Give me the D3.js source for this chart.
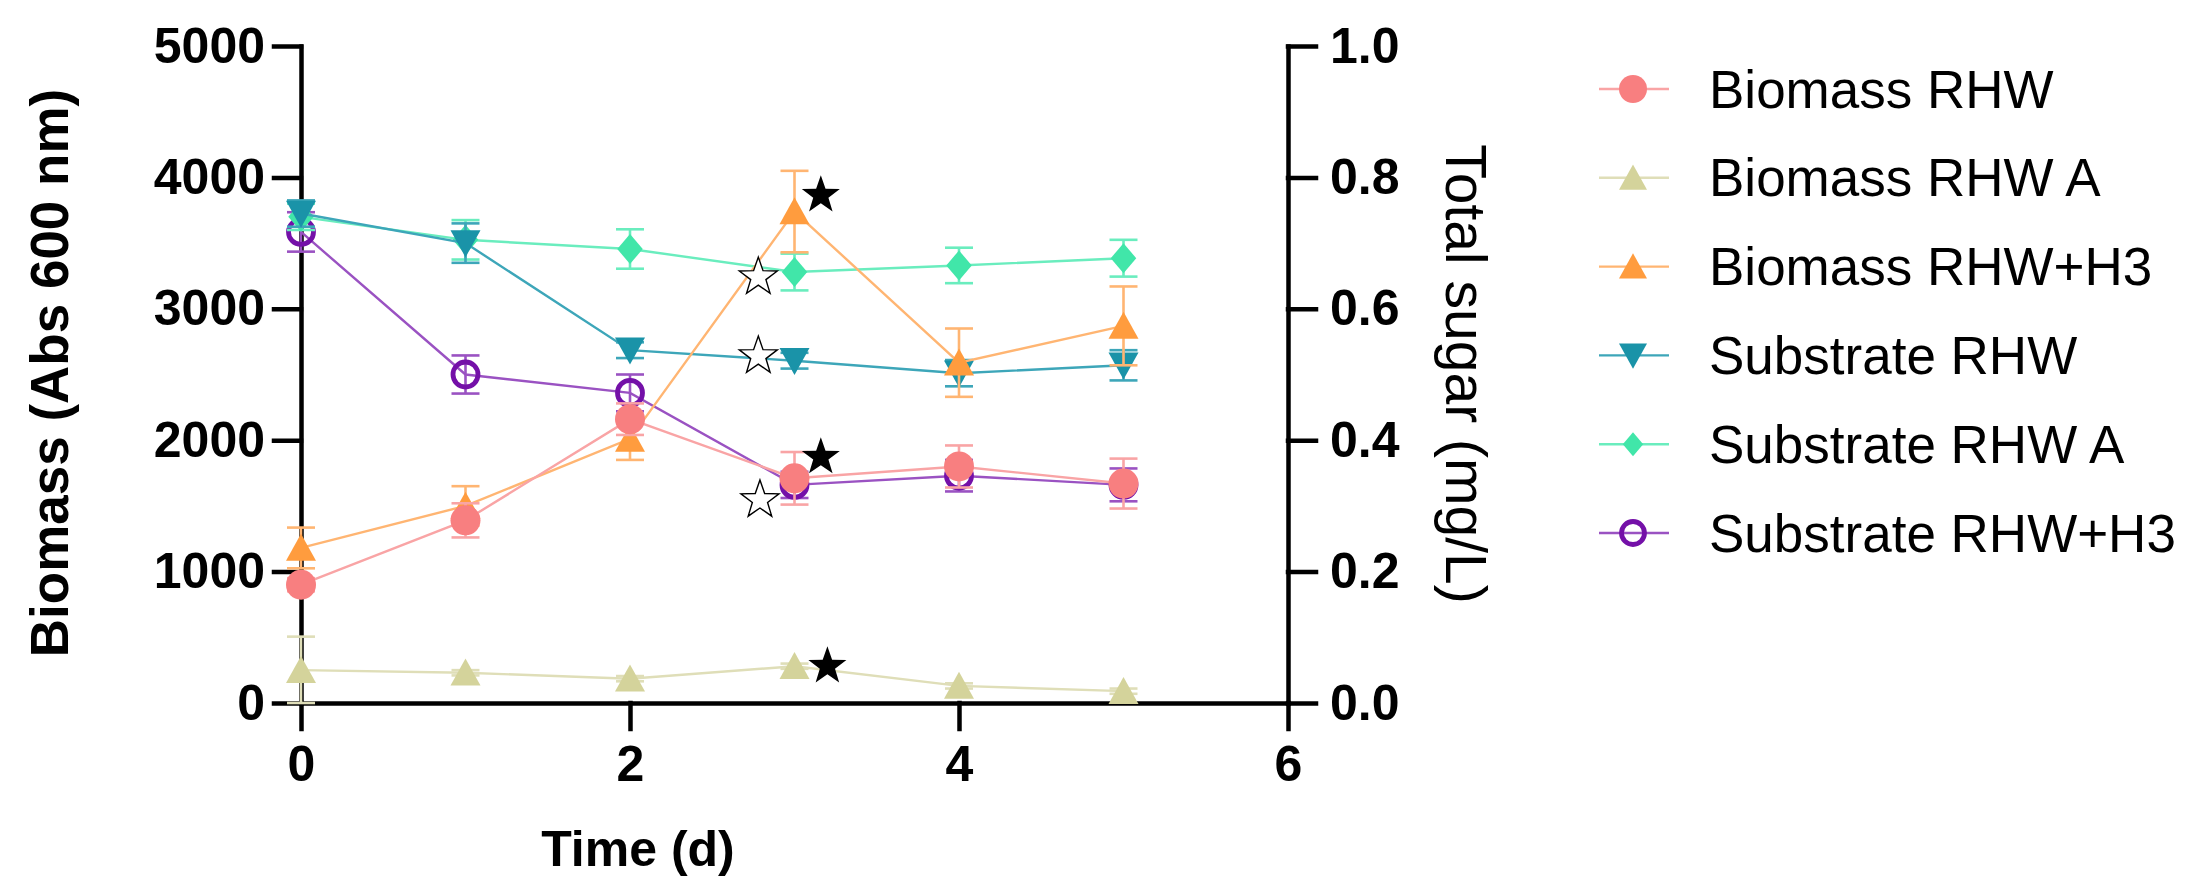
<!DOCTYPE html>
<html lang="en">
<head>
<meta charset="UTF-8">
<title>Biomass and total sugar</title>
<script src="https://cdn.jsdelivr.net/npm/d3@7"></script>
<style>
    body { margin: 0; background: #fff; }
    svg { display: block; font-family: "Liberation Sans", Arial, sans-serif; }
</style>
</head>
<body>
<svg id="chart" width="2199" height="895"></svg>
<script>
    // time points (d)
    const days = [0, 1, 2, 3, 4, 5];

    // biomass, left axis (Abs 600 nm)
    const biomassRHW = [900, 1390, 2160, 1710, 1800, 1670];
    const biomassRHWErr = [50, 130, 120, 200, 160, 190];
    const biomassRHWA = [250, 230, 185, 280, 130, 90];
    const biomassRHWAErr = [255, 20, 20, 20, 20, 20];
    const biomassRHWH3 = [1180, 1500, 2010, 3740, 2590, 2870];
    const biomassRHWH3Err = [155, 150, 160, 310, 260, 300];

    // total sugar, right axis (mg/L)
    const substrateRHW = [0.745, 0.70, 0.537, 0.521, 0.502, 0.514];
    const substrateRHWErr = [0.02, 0.03, 0.012, 0.012, 0.02, 0.023];
    const substrateRHWA = [0.74, 0.705, 0.691, 0.656, 0.666, 0.677];
    const substrateRHWAErr = [0.02, 0.03, 0.03, 0.028, 0.027, 0.028];
    const substrateRHWH3 = [0.717, 0.50, 0.472, 0.332, 0.346, 0.332];
    const substrateRHWH3Err = [0.03, 0.029, 0.028, 0.02, 0.024, 0.025];

    const seriesNames = ["Biomass RHW", "Biomass RHW A", "Biomass RHW+H3",
        "Substrate RHW", "Substrate RHW A", "Substrate RHW+H3"];

    const xTicks = [0, 2, 4, 6];
    const yLeftTicks = [0, 1000, 2000, 3000, 4000, 5000];
    const yRightTicks = [0, 0.2, 0.4, 0.6, 0.8, 1.0];

    // significance stars: [day, biomass-axis value]
    const filledStars = [[3.16, 3864], [3.16, 1871], [3.2, 280]];
    const openStars = [[2.78, 3241], [2.78, 2640], [2.79, 1545]];

    const series = [
        {name: seriesNames[0], v: biomassRHW, e: biomassRHWErr, axis: "L", shape: "circle", color: "#F87F80", line: "#F9A4A5"},
        {name: seriesNames[1], v: biomassRHWA, e: biomassRHWAErr, axis: "L", shape: "triUp", color: "#D4D39B", line: "#DFDEB8"},
        {name: seriesNames[2], v: biomassRHWH3, e: biomassRHWH3Err, axis: "L", shape: "triUp", color: "#FF9C3E", line: "#FFB572"},
        {name: seriesNames[3], v: substrateRHW, e: substrateRHWErr, axis: "R", shape: "triDown", color: "#1A93A8", line: "#3DA6B9"},
        {name: seriesNames[4], v: substrateRHWA, e: substrateRHWAErr, axis: "R", shape: "diamond", color: "#41E6A9", line: "#6AEDBE"},
        {name: seriesNames[5], v: substrateRHWH3, e: substrateRHWH3Err, axis: "R", shape: "openCircle", color: "#7410A8", line: "#9A52C2"}
    ];

    const svg = d3.select("#chart");
    const font = "'Liberation Sans', Arial, sans-serif";

    const x = d3.scaleLinear().domain([0, 6]).range([301, 1288]);
    const yL = d3.scaleLinear().domain([0, 5000]).range([703, 46]);
    const yR = d3.scaleLinear().domain([0, 1]).range([703, 46]);

    function styleAxis(g, size) {
        g.selectAll(".domain, .tick line")
            .attr("stroke", "#000")
            .attr("stroke-width", 4.5)
            .attr("stroke-linecap", "square");
        g.selectAll(".tick text")
            .attr("font-family", font)
            .attr("font-weight", "bold")
            .attr("font-size", size)
            .attr("fill", "#000");
    }

    // axes
    svg.append("g")
        .attr("transform", "translate(0,703)")
        .call(d3.axisBottom(x).tickValues(xTicks).tickSize(26).tickSizeOuter(0).tickPadding(16)
            .tickFormat(d3.format("d")))
        .call(g => styleAxis(g, 50));

    svg.append("g")
        .attr("transform", "translate(301,0)")
        .call(d3.axisLeft(yL).tickValues(yLeftTicks).tickSize(27).tickSizeOuter(0).tickPadding(9)
            .tickFormat(d3.format("d")))
        .call(g => styleAxis(g, 50));

    svg.append("g")
        .attr("transform", "translate(1288,0)")
        .call(d3.axisRight(yR).tickValues(yRightTicks).tickSize(28).tickSizeOuter(0).tickPadding(14)
            .tickFormat(d3.format(".1f")))
        .call(g => styleAxis(g, 50));

    // axis titles
    svg.append("text")
        .attr("x", 638).attr("y", 866)
        .attr("text-anchor", "middle")
        .attr("font-weight", "bold").attr("font-size", 50)
        .text("Time (d)");

    svg.append("text")
        .attr("transform", "translate(49,373) rotate(-90)")
        .attr("text-anchor", "middle").attr("dy", "0.35em")
        .attr("font-weight", "bold").attr("font-size", 53)
        .text("Biomass (Abs 600 nm)");

    svg.append("text")
        .attr("transform", "translate(1466,374) rotate(90)")
        .attr("text-anchor", "middle").attr("dy", "0.35em")
        .attr("font-size", 57)
        .text("Total sugar (mg/L)");

    // marker shapes
    function markerPath(shape, s) {
        const p = d3.path();
        if (shape === "circle" || shape === "openCircle") {
            p.arc(0, 0, s, 0, 2 * Math.PI);
        } else if (shape === "triUp") {
            p.moveTo(0, -s * 0.95); p.lineTo(s, s * 0.85); p.lineTo(-s, s * 0.85); p.closePath();
        } else if (shape === "triDown") {
            p.moveTo(0, s * 0.95); p.lineTo(s, -s * 0.85); p.lineTo(-s, -s * 0.85); p.closePath();
        } else if (shape === "diamond") {
            p.moveTo(0, -s); p.lineTo(s * 0.85, 0); p.lineTo(0, s); p.lineTo(-s * 0.85, 0); p.closePath();
        }
        return p.toString();
    }

    function drawMarker(g, d, size) {
        const open = d.shape === "openCircle";
        return g.append("path")
            .attr("d", markerPath(d.shape, open ? size - 2.5 : size))
            .attr("fill", open ? "none" : d.color)
            .attr("stroke", open ? d.color : "none")
            .attr("stroke-width", open ? 4.8 : 0);
    }

    // series, last legend entry at the bottom
    series.slice().reverse().forEach(s => {
        const y = s.axis === "L" ? yL : yR;
        const pts = days.map((t, i) => ({t: t, v: s.v[i], e: s.e[i]}));
        const g = svg.append("g");

        g.append("path")
            .datum(pts)
            .attr("fill", "none")
            .attr("stroke", s.line)
            .attr("stroke-width", 2.4)
            .attr("d", d3.line().x(d => x(d.t)).y(d => y(d.v)));

        const eb = g.selectAll(".err").data(pts).enter().append("g")
            .attr("stroke", s.line).attr("stroke-width", 2.6);
        eb.append("line")
            .attr("x1", d => x(d.t)).attr("x2", d => x(d.t))
            .attr("y1", d => y(Math.max(0, d.v - d.e))).attr("y2", d => y(d.v + d.e));
        eb.append("line")
            .attr("x1", d => x(d.t) - 14).attr("x2", d => x(d.t) + 14)
            .attr("y1", d => y(d.v + d.e)).attr("y2", d => y(d.v + d.e));
        eb.append("line")
            .attr("x1", d => x(d.t) - 14).attr("x2", d => x(d.t) + 14)
            .attr("y1", d => y(Math.max(0, d.v - d.e))).attr("y2", d => y(Math.max(0, d.v - d.e)));

        pts.forEach(d => {
            drawMarker(g, s, 15).attr("transform", `translate(${x(d.t)},${y(d.v)})`);
        });
    });

    // stars
    function starPath(r) {
        const p = d3.path();
        for (let i = 0; i < 10; i++) {
            const rr = i % 2 === 0 ? r : r * 0.4;
            const a = -Math.PI / 2 + i * Math.PI / 5;
            if (i === 0) p.moveTo(rr * Math.cos(a), rr * Math.sin(a));
            else p.lineTo(rr * Math.cos(a), rr * Math.sin(a));
        }
        p.closePath();
        return p.toString();
    }

    svg.selectAll(".fstar").data(filledStars).enter().append("path")
        .attr("d", starPath(20))
        .attr("transform", d => `translate(${x(d[0])},${yL(d[1])})`)
        .attr("fill", "#000");

    svg.selectAll(".ostar").data(openStars).enter().append("path")
        .attr("d", starPath(20))
        .attr("transform", d => `translate(${x(d[0])},${yL(d[1])})`)
        .attr("fill", "#fff")
        .attr("stroke", "#000")
        .attr("stroke-width", 1.4);

    // legend
    const legend = svg.append("g");
    series.forEach((s, i) => {
        const ly = 89 + i * 88.8;
        const row = legend.append("g").attr("transform", `translate(1633,${ly})`);
        row.append("line")
            .attr("x1", -34).attr("x2", 36)
            .attr("stroke", s.line).attr("stroke-width", 2.4);
        drawMarker(row, s, s.shape === "diamond" ? 12 : 14);
        row.append("text")
            .attr("x", 76).attr("dy", "0.35em")
            .attr("font-size", 53)
            .attr("fill", "#000")
            .text(s.name);
    });
</script>
</body>
</html>
